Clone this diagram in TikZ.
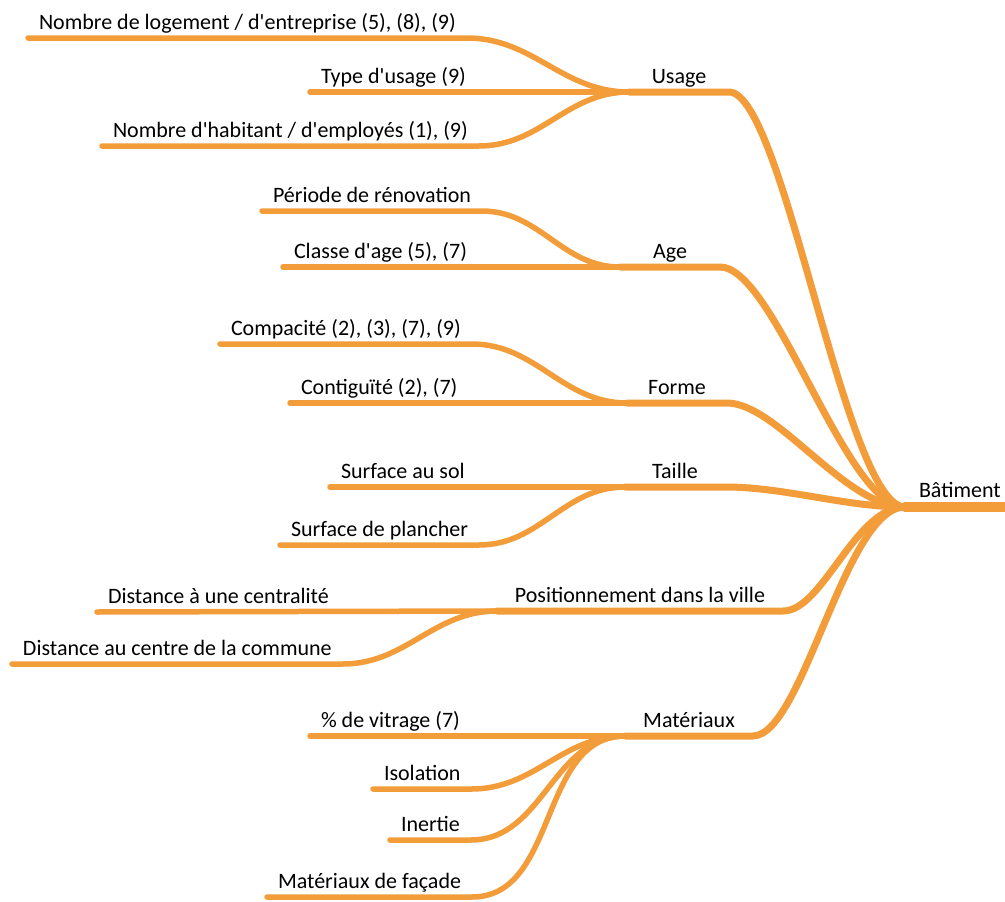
\documentclass[tikz,border=0pt]{standalone}
\usepackage{fontspec}
\setmainfont{Carlito}
\usepackage{xcolor}
\usepackage{tikz}

\definecolor{mapline}{RGB}{243,156,58}
\newcommand{\apos}{\textquotesingle}

\begin{document}
\begin{tikzpicture}[
    x=1pt, y=-1pt,
    every node/.style={font=\fontsize{22}{26}\selectfont, inner ysep=0pt, outer sep=0pt, text depth=9pt},
    leaf/.style={inner xsep=11pt, anchor=south west},
    topic/.style={inner xsep=18pt, minimum width=100pt, anchor=south},
    root/.style={inner xsep=14pt, anchor=south west, text depth=10pt},
    twig/.style={draw=mapline, line width=5.5pt, line cap=round},
    limb/.style={draw=mapline, line width=7pt, line cap=round},
    trunk/.style={draw=mapline, line width=10pt, line cap=round}
]
\useasboundingbox (0,0) rectangle (1005,902);

% Root
\node[root] (bat) at (905,507) {Bâtiment};

% Main topics
\node[topic] (usage) at (679,92) {Usage};
\node[topic] (age) at (670,267) {Age};
\node[topic] (forme) at (677,403) {Forme};
\node[topic] (taille) at (675,487) {Taille};
\node[topic] (posit) at (640,611) {Positionnement dans la ville};
\node[topic] (mater) at (689,736) {Matériaux};

% Usage
\node[leaf] (logt) at (28,38) {Nombre de logement / d\apos entreprise (5), (8), (9)};
\node[leaf] (type) at (310,92) {Type d\apos usage (9)};
\node[leaf] (habt) at (102,146) {Nombre d\apos habitant / d\apos employés (1), (9)};

% Age
\node[leaf] (reno) at (262,211) {Période de rénovation};
\node[leaf] (classe) at (283,267) {Classe d\apos age (5), (7)};

% Forme
\node[leaf] (compac) at (220,344) {Compacité (2), (3), (7), (9)};
\node[leaf] (contig) at (290,403) {Contiguïté (2), (7)};

% Taille
\node[leaf] (sol) at (330,487) {Surface au sol};
\node[leaf] (planch) at (280,545) {Surface de plancher};

% Positionnement
\node[leaf] (centr) at (97,612) {Distance à une centralité};
\node[leaf] (commune) at (12,664) {Distance au centre de la commune};

% Materiaux
\node[leaf] (vitr) at (310,736) {\% de vitrage (7)};
\node[leaf] (isol) at (373,789) {Isolation};
\node[leaf] (inert) at (390,840) {Inertie};
\node[leaf] (facade) at (267,897) {Matériaux de façade};

% Leaves to topics
\draw[twig] (logt.south west) -- (logt.south east) to[out=0,in=180] (usage.south west);
\draw[twig] (type.south west) -- (usage.south west);
\draw[twig] (habt.south west) -- (habt.south east) to[out=0,in=180] (usage.south west);
\draw[twig] (reno.south west) -- (reno.south east) to[out=0,in=180] (age.south west);
\draw[twig] (classe.south west) -- (age.south west);
\draw[twig] (compac.south west) -- (compac.south east) to[out=0,in=180] (forme.south west);
\draw[twig] (contig.south west) -- (forme.south west);
\draw[twig] (sol.south west) -- (taille.south west);
\draw[twig] (planch.south west) -- (planch.south east) to[out=0,in=180] (taille.south west);
\draw[twig] (centr.south west) -- (posit.south west);
\draw[twig] (commune.south west) -- (commune.south east) to[out=0,in=180] (posit.south west);
\draw[twig] (vitr.south west) -- (mater.south west);
\draw[twig] (isol.south west) -- (isol.south east) to[out=0,in=180] (mater.south west);
\draw[twig] (inert.south west) -- (inert.south east) to[out=0,in=180] (mater.south west);
\draw[twig] (facade.south west) -- (facade.south east) to[out=0,in=180] (mater.south west);

% Topics to root
\draw[limb] (usage.south west) -- (usage.south east) .. controls +(55,0) and +(-60,0) .. (bat.south west);
\draw[limb] (age.south west) -- (age.south east) .. controls +(55,0) and +(-60,0) .. (bat.south west);
\draw[limb] (forme.south west) -- (forme.south east) .. controls +(50,0) and +(-60,0) .. (bat.south west);
\draw[limb] (taille.south west) -- (taille.south east) .. controls +(60,0) and +(-60,0) .. (bat.south west);
\draw[limb] (posit.south west) -- (posit.south east) .. controls +(40,0) and +(-50,0) .. (bat.south west);
\draw[limb] (mater.south west) -- (mater.south east) .. controls +(50,0) and +(-60,0) .. (bat.south west);
\draw[trunk] (bat.south west) -- (bat.south east);

\end{tikzpicture}
\end{document}
